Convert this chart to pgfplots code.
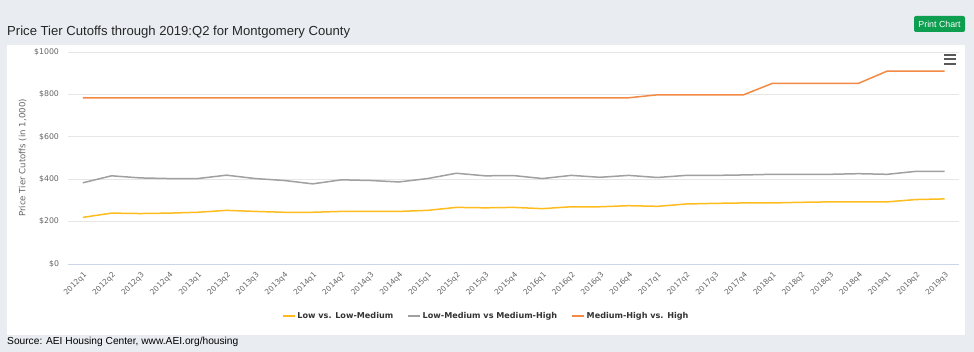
\documentclass[border=0pt]{standalone}
\usepackage{pgfplots}
\pgfplotsset{compat=1.18}
\usepackage{fontspec}
\setmainfont{Liberation Sans}
\newfontfamily\dvs{DejaVu Sans}
\definecolor{bgc}{HTML}{E9ECF1}
\definecolor{btn}{HTML}{0E9E4F}
\definecolor{cyel}{HTML}{FFBC1F}
\definecolor{cgry}{HTML}{A0A0A0}
\definecolor{corg}{HTML}{F28A45}
\definecolor{gridc}{HTML}{E6E6E6}
\definecolor{axisc}{HTML}{CCD6EB}
\definecolor{lblc}{HTML}{666666}
\definecolor{legc}{HTML}{333333}
\begin{document}
\begin{tikzpicture}[x=1pt,y=1pt]
\fill[bgc] (0,0) rectangle (974,352);
\fill[white] (7,17) rectangle (965,307);
\node[anchor=base west,inner sep=0pt,font=\fontsize{13.1}{15}\selectfont,text=black!85] at (7,316.5) {Price Tier Cutoffs through 2019:Q2 for Montgomery County};
\fill[btn,rounded corners=2pt] (914,320) rectangle (965,336);
\node[text=white,font=\fontsize{8.8}{10}\selectfont] at (939.5,328) {Print Chart};
\draw[black!65,line width=2pt] (944,297) -- (956,297) (944,292.5) -- (956,292.5) (944,288) -- (956,288);
\node[anchor=base west,inner sep=0pt,font=\fontsize{10.2}{12}\selectfont] at (7,7) {Source: AEI Housing Center, www.AEI.org/housing};
\begin{axis}[
  at={(68.5pt,88pt)}, anchor=south west,
  width=890.5pt, height=212pt, scale only axis,
  xmin=-0.5, xmax=30.5, ymin=0, ymax=1000,
  axis x line*=bottom, axis y line*=left,
  x axis line style={draw=axisc,-},
  y axis line style={draw=none},
  major tick length=0pt,
  ymajorgrids, major grid style={gridc,line width=0.7pt},
  ytick={0,200,400,600,800,1000},
  yticklabels={\$0,\$200,\$400,\$600,\$800,\$1000},
  yticklabel style={font=\dvs\fontsize{7.8}{9}\selectfont,text=lblc,anchor=east,xshift=-6pt},
  xtick={0,...,30},
  xticklabels={2012q1,2012q2,2012q3,2012q4,2013q1,2013q2,2013q3,2013q4,2014q1,2014q2,2014q3,2014q4,2015q1,2015q2,2015q3,2015q4,2016q1,2016q2,2016q3,2016q4,2017q1,2017q2,2017q3,2017q4,2018q1,2018q2,2018q3,2018q4,2019q1,2019q2,2019q3},
  xticklabel style={font=\dvs\fontsize{7.5}{9}\selectfont,text=lblc,rotate=45,anchor=east,xshift=-1.5pt,yshift=-9pt},
  ylabel={Price Tier Cutoffs (in 1,000)},
  ylabel style={font=\dvs\fontsize{8.6}{10}\selectfont,text=lblc,at={(axis description cs:-0.0515,0.5)},anchor=center},
  legend columns=3,
  legend style={at={(0.469,-0.245)},anchor=center,draw=none,fill=none,
    font=\dvs\bfseries\fontsize{8.1}{10}\selectfont,text=legc,
    /tikz/every even column/.append style={column sep=12pt}},
  legend image code/.code={\draw[#1,line width=1.5pt] (0pt,0pt) -- (12pt,0pt);},
  every axis plot/.append style={line width=1.5pt,mark=none},
]
\addplot[cyel] coordinates {(0,220)(1,240)(2,238)(3,240)(4,244)(5,253)(6,248)(7,244)(8,244)(9,248)(10,248)(11,248)(12,253)(13,267)(14,265)(15,267)(16,261)(17,270)(18,270)(19,275)(20,272)(21,283)(22,286)(23,288)(24,288)(25,291)(26,293)(27,293)(28,293)(29,304)(30,307)};
\addlegendentry{Low vs. Low-Medium}
\addplot[cgry] coordinates {(0,383)(1,416)(2,406)(3,403)(4,403)(5,419)(6,403)(7,394)(8,378)(9,397)(10,394)(11,387)(12,403)(13,428)(14,416)(15,417)(16,403)(17,418)(18,409)(19,418)(20,408)(21,418)(22,418)(23,420)(24,423)(25,423)(26,423)(27,426)(28,423)(29,437)(30,437)};
\addlegendentry{Low-Medium vs Medium-High}
\addplot[corg] coordinates {(0,784)(1,784)(2,784)(3,784)(4,784)(5,784)(6,784)(7,784)(8,784)(9,784)(10,784)(11,784)(12,784)(13,784)(14,784)(15,784)(16,784)(17,784)(18,784)(19,784)(20,798)(21,798)(22,798)(23,798)(24,852)(25,852)(26,852)(27,852)(28,910)(29,910)(30,910)};
\addlegendentry{Medium-High vs. High}
\end{axis}
\end{tikzpicture}
\end{document}
